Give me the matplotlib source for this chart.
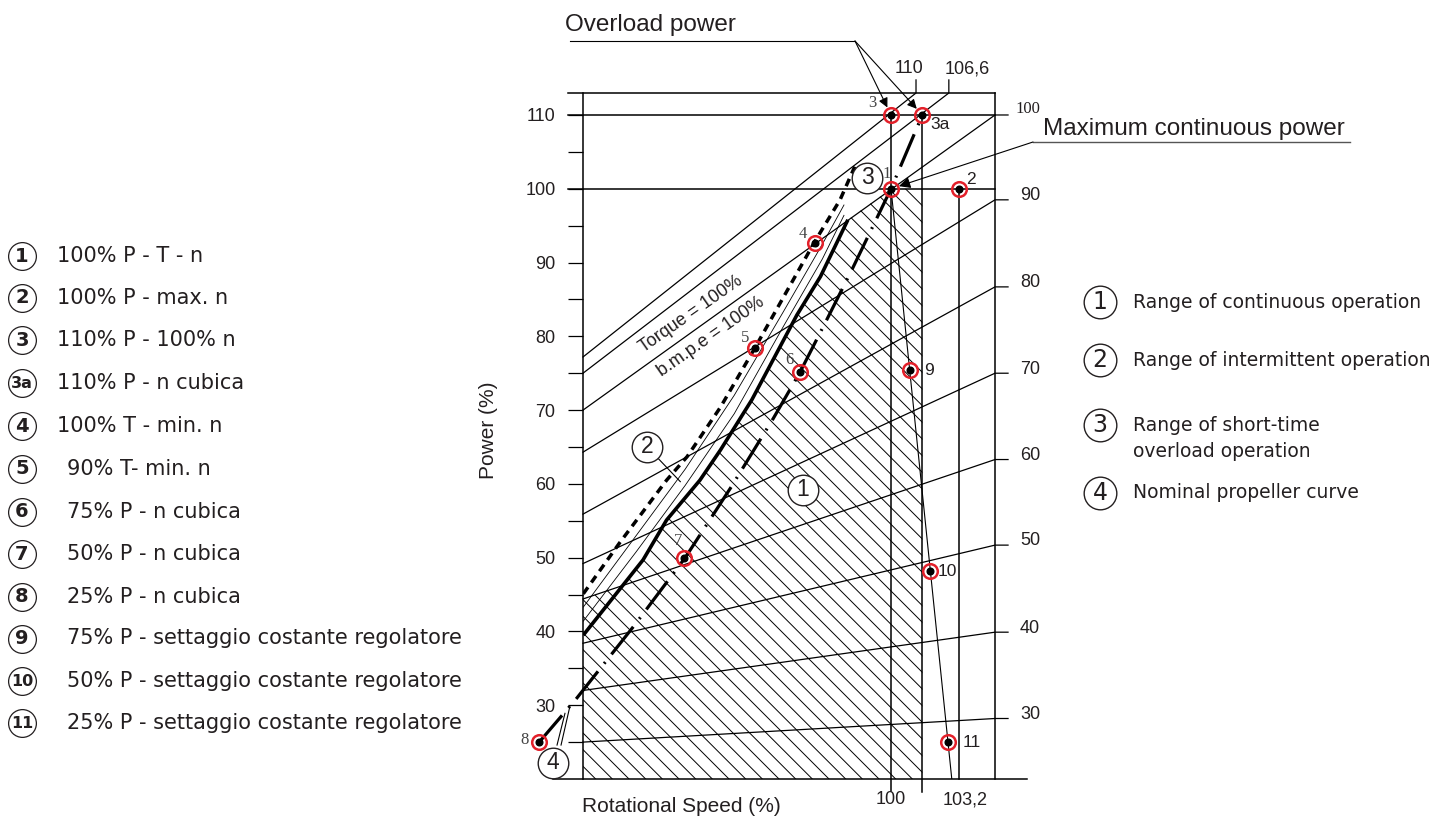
import numpy as np
import matplotlib.pyplot as plt
from matplotlib.patches import Polygon

plt.rcParams['font.family'] = ['Liberation Sans', 'DejaVu Sans']
plt.rcParams['hatch.linewidth'] = 0.7

INK = '#231f20'
RED = '#e3202a'
W, H = 1442, 818

# ---- chart values: rotational speed (%) on x, power (%) on y ----
n_left, n_right = 68.57, 110.61
p_bottom, p_top = 20.0, 112.98

p_major = [30, 40, 50, 60, 70, 80, 90, 100, 110]
p_minor = [25, 35, 45, 55, 65, 75, 85, 95, 105]

# fan of straight lines, labelled at the right frame
fan_labels = ['100', '90', '80', '70', '60', '50', '40', '30']
fan_p_left = [70.0, 64.3, 55.9, 49.2, 44.4, 38.4, 32.0, 25.0]
fan_p_right = [110.0, 98.5, 86.7, 75.0, 63.3, 51.7, 39.9, 28.2]

# overload lines, labelled at the top frame
ovl_labels = ['110', '106,6']
ovl_p_left = [77.2, 75.0]
ovl_n_top = [102.55, 105.9]

# thick solid limit curve
limit_n = [68.6, 74.7, 77.1, 80.5, 82.6, 85.8, 90.4, 92.8, 95.6]
limit_p = [39.5, 49.7, 55.1, 60.5, 64.6, 71.4, 82.9, 88.1, 95.8]

# thick dashed curve (intermittent limit)
inter_n = [68.6, 72.3, 77.1, 79.2, 82.6, 86.1, 92.2, 94.8, 96.3]
inter_p = [45.1, 52.0, 60.5, 63.7, 70.4, 78.4, 92.8, 98.5, 103.0]

# thin lines inside range 2
mid_n = [68.6, 74.0, 79.0, 84.0, 89.0, 93.0, 95.2]
mid_a_p = [43.3, 53.0, 62.0, 72.0, 83.3, 92.5, 97.8]
mid_b_p = [41.4, 50.8, 59.8, 69.5, 81.3, 90.5, 96.4]

# nominal propeller curve
prop_n = [64.1, 67.9, 73.8, 79.0, 83.7, 88.0, 90.7, 93.5, 96.0, 100.0, 103.2]
prop_p = [25.0, 30.9, 40.8, 50.0, 59.6, 68.9, 75.1, 82.4, 89.0, 100.0, 110.0]

# constant governor setting line
gov_n = [100.0, 106.2]
gov_p = [100.0, 20.0]

# vertical reference lines
ref_n = [100.0, 103.2, 106.9]
ref_p_from = [110.0, 110.0, 100.0]
ref_p_to = [18.4, 18.2, 20.0]

# operating points
pt_labels = ['1', '2', '3', '3a', '4', '5', '6', '7', '8', '9', '10', '11']
pt_n = [100.0, 106.9, 100.0, 103.2, 92.2, 86.1, 90.7, 78.9, 64.1, 101.9, 104.0, 105.8]
pt_p = [100.0, 100.0, 110.0, 110.0, 92.7, 78.4, 75.1, 50.0, 25.0, 75.4, 48.2, 25.0]
pt_serif = [True, False, True, False, True, True, True, True, True, False, False, False]
pt_off = [(-4, -15), (12, -9), (-19, -12), (18, 10), (-12, -9), (-10, -10),
          (-10, -12), (-6, -17), (-15, -2), (19, 0), (17, 1), (24, 0)]

# circled range numbers inside the chart
region_labels = ['1', '2', '3', '4']
region_n = [91.0, 75.1, 97.55, 65.5]
region_p = [59.2, 65.0, 101.5, 22.2]

left_keys = ['1', '2', '3', '3a', '4', '5', '6', '7', '8', '9', '10', '11']
left_labels = ['100% P - T - n', '100% P - max. n', '110% P - 100% n',
               '110% P - n cubica', '100% T - min. n', '90% T- min. n',
               '75% P - n cubica', '50% P - n cubica', '25% P - n cubica',
               '75% P - settaggio costante regolatore',
               '50% P - settaggio costante regolatore',
               '25% P - settaggio costante regolatore']
right_keys = ['1', '2', '3', '4']
right_labels = ['Range of continuous operation', 'Range of intermittent operation',
                'Range of short-time\noverload operation', 'Nominal propeller curve']

fig = plt.figure(figsize=(14.42, 8.18), dpi=100)
ax = fig.add_axes([583 / W, 1 - 779 / H, 412 / W, 686 / H])
ax.set_xlim(n_left, n_right)
ax.set_ylim(p_bottom, p_top)
ax.patch.set_visible(False)
for s in ['top', 'right', 'bottom']:
    ax.spines[s].set_visible(False)
ax.spines['left'].set_linewidth(1.1)
ax.set_xticks([])
ax.set_yticks(p_major)
ax.set_yticks(p_minor, minor=True)
ax.tick_params(axis='y', which='both', direction='out', length=10.8, width=0.9,
               labelsize=13, pad=9, labelcolor=INK)

# hatched range of continuous operation
def fan_at(i, n):
    return np.interp(n, [n_left, n_right], [fan_p_left[i], fan_p_right[i]])

s = np.linspace(limit_n[0], limit_n[-1], 600)
d = np.interp(s, limit_n, limit_p) - fan_at(4, s)
k = np.argmax(d > 0)
cut_n, cut_p = s[k], np.interp(s[k], limit_n, limit_p)
verts = [(n_left, p_bottom), (n_left, fan_p_left[4]), (cut_n, cut_p)]
verts += [(a, b) for a, b in zip(limit_n, limit_p) if a > cut_n]
verts += [(pt_n[0], pt_p[0]), (ref_n[1], 100.0), (ref_n[1], p_bottom)]
ax.add_patch(Polygon(verts, closed=True, fill=False, hatch='\\\\', edgecolor='k',
                     lw=0, zorder=1))

line = dict(color='k', lw=1.1, clip_on=False, zorder=3)
n_tick = n_left - 1.53
ax.plot([n_tick, n_right], [p_top, p_top], **line)
ax.plot([65.5, 113.9], [p_bottom, p_bottom], **line)
ax.plot([n_right, n_right], [p_bottom, p_top], **line)
for p in (100, 110):
    ax.plot([n_tick, n_right], [p, p], **line)
for n, a, b in zip(ref_n, ref_p_from, ref_p_to):
    ax.plot([n, n], [a, b], **line)

thin = dict(color='k', lw=0.9, clip_on=False, zorder=2)
for lab, pl, pr in zip(fan_labels, fan_p_left, fan_p_right):
    ax.plot([n_left, n_right, n_right + 1.33], [pl, pr, pr], **thin)
    if lab == '100':
        ax.annotate(lab, (n_right, pr), xytext=(14.5, 4.5), textcoords='offset points',
                    ha='left', va='center', fontsize=12, family='Liberation Serif',
                    color=INK, annotation_clip=False)
    else:
        ax.annotate(lab, (n_right, pr), xytext=(18, 3), textcoords='offset points',
                    ha='left', va='center', fontsize=13, color=INK, annotation_clip=False)

for lab, pl, nt, dx in zip(ovl_labels, ovl_p_left, ovl_n_top, (-5, 13)):
    ax.plot([n_left, nt, nt], [pl, p_top, 114.75], **thin)
    ax.annotate(lab, (nt, 114.75), xytext=(dx, 2), textcoords='offset points',
                ha='center', va='bottom', fontsize=13, color=INK, annotation_clip=False)

ax.plot(mid_n, mid_a_p, color='k', lw=0.6, zorder=2)
ax.plot(mid_n, mid_b_p, color='k', lw=0.6, zorder=2)
ax.plot(gov_n, gov_p, color='k', lw=0.8, zorder=3)

ax.plot(limit_n, limit_p, color='k', lw=2.6, solid_capstyle='butt', zorder=4)
ax.plot(inter_n, inter_p, color='k', lw=2.5, dashes=(2.3, 1.7), zorder=4)
ax.plot(prop_n, prop_p, color='k', lw=2.3, dashes=(11, 3.1, 0.6, 3.1),
        clip_on=False, zorder=4)

ax.text(79.56, 83.0, 'Torque = 100%', rotation=35, ha='center', va='center',
        fontsize=13, color=INK)
ax.text(81.6, 79.9, 'b.m.p.e = 100%', rotation=35, ha='center', va='center',
        fontsize=13, color=INK)

ax.plot(pt_n, pt_p, 'o', ms=4.8, color='k', clip_on=False, zorder=6)
ax.plot(pt_n, pt_p, 'o', ms=10.5, mfc='none', mec=RED, mew=1.8, clip_on=False, zorder=6)
for lab, n, p, serif, (dx, dy) in zip(pt_labels, pt_n, pt_p, pt_serif, pt_off):
    ax.annotate(lab, (n, p), xytext=(dx * 0.72, -dy * 0.72), textcoords='offset points',
                ha='center', va='center', color='#444444' if serif else INK,
                fontsize=12 if serif else 12.5, annotation_clip=False,
                family='Liberation Serif' if serif else 'Liberation Sans', zorder=7)

# leaders for the circled range numbers
ax.plot([76.2, 78.5], [63.5, 60.3], color='k', lw=0.8, zorder=5)
ax.plot([65.92, 66.73], [24.6, 28.9], color='k', lw=0.8, clip_on=False, zorder=5)
ax.plot([66.33, 67.24], [24.6, 29.9], color='k', lw=0.8, clip_on=False, zorder=5)
ax.plot(region_n, region_p, 'o', ms=22, mfc='white', mec=INK, mew=1.0,
        clip_on=False, zorder=7, linestyle='none')
for lab, n, p in zip(region_labels, region_n, region_p):
    ax.text(n, p, lab, ha='center', va='center', fontsize=16.5, color=INK, zorder=8)

# overlay in pixel units for legends and notes
ov = fig.add_axes([0, 0, 1, 1])
ov.set_xlim(0, W)
ov.set_ylim(H, 0)
ov.axis('off')

ov.text(488, 430, 'Power (%)', rotation=90, ha='center', va='center', fontsize=15, color=INK)
ov.text(582, 806, 'Rotational Speed (%)', ha='left', va='center', fontsize=15, color=INK)
ov.text(891, 800, '100', ha='center', va='center', fontsize=13, color=INK)
ov.text(965, 800, '103,2', ha='center', va='center', fontsize=13, color=INK)

ov.text(565, 31, 'Overload power', ha='left', va='baseline', fontsize=17.5, color=INK)
ov.plot([570, 855], [41, 41], color='k', lw=0.8)
for i in (2, 3):
    ov.annotate('', xy=(pt_n[i], pt_p[i]), xycoords=ax.transData, xytext=(855, 41),
                textcoords=ov.transData,
                arrowprops=dict(arrowstyle='-|>', color='k', lw=0.8, shrinkA=0,
                                shrinkB=6, mutation_scale=14))

ov.text(1043, 135, 'Maximum continuous power', ha='left', va='baseline', fontsize=17.5,
        color=INK)
ov.plot([1033, 1350], [142, 142], color='#555555', lw=1.0)
ov.annotate('', xy=(pt_n[0], pt_p[0]), xycoords=ax.transData, xytext=(1033, 142),
            textcoords=ov.transData,
            arrowprops=dict(arrowstyle='-|>', color='k', lw=0.8, shrinkA=0,
                            shrinkB=6, mutation_scale=17))

left_y = [256, 297.5, 340, 383, 426, 469, 511.5, 554, 597, 638.5, 681, 723]
for i, (key, lab) in enumerate(zip(left_keys, left_labels)):
    y = left_y[i]
    ov.plot(22, y, 'o', ms=20, mfc='white', mec=INK, mew=0.9)
    ov.text(22, y, key, ha='center', va='center', fontsize=14 if len(key) == 1 else 11.5,
            weight='bold', family='DejaVu Sans', color=INK)
    ov.text(57 if i < 5 else 67, y, lab, ha='left', va='center', fontsize=15,
            family='DejaVu Sans', color=INK)

right_y = [302, 360, 425, 493]
right_text_y = [302, 360, 438.5, 493]
for key, lab, y, ty in zip(right_keys, right_labels, right_y, right_text_y):
    ov.plot(1100, y, 'o', ms=23.5, mfc='white', mec=INK, mew=1.0)
    ov.text(1100, y, key, ha='center', va='center', fontsize=17, family='DejaVu Sans',
            color=INK)
    ov.text(1133, ty, lab, ha='left', va='center', fontsize=13.5, family='DejaVu Sans',
            color=INK, linespacing=1.45)

fig.savefig('out.png', dpi=100)
